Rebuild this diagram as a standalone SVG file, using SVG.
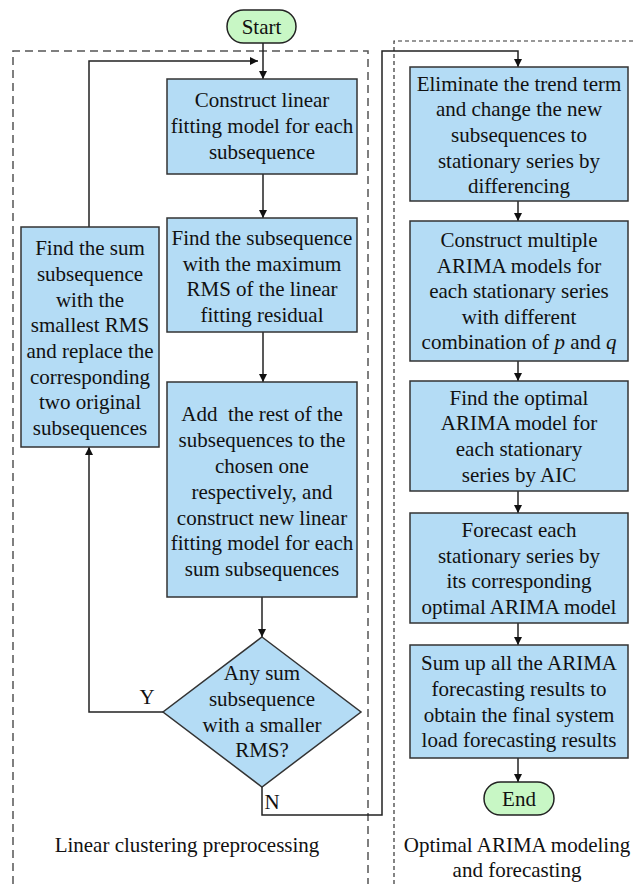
<svg xmlns="http://www.w3.org/2000/svg" width="635" height="884" viewBox="0 0 635 884">
<defs>
<marker id="ah" viewBox="0 0 10 10" refX="10" refY="5" markerWidth="8" markerHeight="8" markerUnits="userSpaceOnUse" orient="auto">
<path d="M0,0 L10,5 L0,10 z" fill="#111"/>
</marker>
<style>
text{font-family:"Liberation Serif","Times New Roman",serif;font-size:21px;fill:#111;text-anchor:middle;dominant-baseline:central}
.box{fill:#b4dcf5;stroke:#333;stroke-width:1.5}
.term{fill:#c8f7c5;stroke:#222;stroke-width:1.5}
.con{fill:none;stroke:#222;stroke-width:1.5}
.arr{fill:none;stroke:#222;stroke-width:1.5;marker-end:url(#ah)}
.dashL{fill:none;stroke:#555;stroke-width:1.5;stroke-dasharray:8 5}
.dashR{fill:none;stroke:#333;stroke-width:1.2;stroke-dasharray:4 3}
</style>
</defs>
<rect width="635" height="884" fill="#fff"/>
<g id="regions">
<path class="dashL" d="M13,884 V51 H368 V884"/>
<path class="dashR" d="M394,884 V41 H635"/>
<text x="187" y="845">Linear clustering preprocessing</text>
<text x="517" y="845">Optimal ARIMA modeling</text>
<text x="517" y="870">and forecasting</text>
</g>
<g id="connectors">
<path class="arr" d="M263,43 V79"/>
<path class="arr" d="M89,227 V61 H258"/>
<path class="arr" d="M263,174 V218"/>
<path class="arr" d="M263,332 V382"/>
<path class="arr" d="M262,597 V637"/>
<path class="arr" d="M163,712 H89 V447"/>
<path class="arr" d="M262,787 V815 H382 V51 H518 V67"/>
<path class="arr" d="M518,201 V221"/>
<path class="arr" d="M518,361 V381"/>
<path class="arr" d="M518,491 V513"/>
<path class="arr" d="M518,623 V645"/>
<path class="arr" d="M518,758 V782"/>
<text x="147" y="697">Y</text>
<text x="272" y="802">N</text>
</g>
<g id="start">
<rect class="term" x="227" y="10" width="69" height="33" rx="16.5"/>
<text x="261.5" y="27">Start</text>
</g>
<g id="box1">
<rect class="box" x="167" y="79" width="190" height="95"/>
<text x="262" y="100">Construct linear</text>
<text x="262" y="126">fitting model for each</text>
<text x="262" y="152">subsequence</text>
</g>
<g id="box2">
<rect class="box" x="167" y="218" width="190" height="114"/>
<text x="262" y="238">Find the subsequence</text>
<text x="262" y="263.5">with the maximum</text>
<text x="262" y="289">RMS of the linear</text>
<text x="262" y="314.5">fitting residual</text>
</g>
<g id="box3">
<rect class="box" x="167" y="382" width="190" height="215"/>
<text x="262" y="414" xml:space="preserve">Add  the rest of the</text>
<text x="262" y="440">subsequences to the</text>
<text x="262" y="466">chosen one</text>
<text x="262" y="492">respectively, and</text>
<text x="262" y="517.5">construct new linear</text>
<text x="262" y="543">fitting model for each</text>
<text x="262" y="569">sum subsequences</text>
</g>
<g id="decision">
<polygon class="box" points="262,637 361,712 262,787 163,712"/>
<text x="262" y="673">Any sum</text>
<text x="262" y="699">subsequence</text>
<text x="262" y="725">with a smaller</text>
<text x="262" y="750">RMS?</text>
</g>
<g id="merge">
<rect class="box" x="21" y="227" width="138" height="220"/>
<text x="90" y="248">Find the sum</text>
<text x="90" y="274">subsequence</text>
<text x="90" y="299.5">with the</text>
<text x="90" y="325">smallest RMS</text>
<text x="90" y="351">and replace the</text>
<text x="90" y="376.5">corresponding</text>
<text x="90" y="402">two original</text>
<text x="90" y="427.5">subsequences</text>
</g>
<g id="r1">
<rect class="box" x="410" y="67" width="218" height="134"/>
<text x="519" y="83.5">Eliminate the trend term</text>
<text x="519" y="109">and change the new</text>
<text x="519" y="135">subsequences to</text>
<text x="519" y="160.5">stationary series by</text>
<text x="519" y="186">differencing</text>
</g>
<g id="r2">
<rect class="box" x="410" y="221" width="218" height="140"/>
<text x="519" y="240">Construct multiple</text>
<text x="519" y="265.5">ARIMA models for</text>
<text x="519" y="291">each stationary series</text>
<text x="519" y="317">with different</text>
<text x="519" y="342">combination of <tspan font-style="italic">p</tspan> and <tspan font-style="italic">q</tspan></text>
</g>
<g id="r3">
<rect class="box" x="410" y="381" width="218" height="110"/>
<text x="519" y="397.5">Find the optimal</text>
<text x="519" y="423">ARIMA model for</text>
<text x="519" y="449">each stationary</text>
<text x="519" y="475">series by AIC</text>
</g>
<g id="r4">
<rect class="box" x="410" y="513" width="218" height="110"/>
<text x="519" y="530">Forecast each</text>
<text x="519" y="555.5">stationary series by</text>
<text x="519" y="581">its corresponding</text>
<text x="519" y="607">optimal ARIMA model</text>
</g>
<g id="r5">
<rect class="box" x="410" y="645" width="218" height="113"/>
<text x="519" y="663">Sum up all the ARIMA</text>
<text x="519" y="689">forecasting results to</text>
<text x="519" y="715">obtain the final system</text>
<text x="519" y="740">load forecasting results</text>
</g>
<g id="end">
<rect class="term" x="484" y="782" width="70" height="33" rx="16.5"/>
<text x="519" y="798.5">End</text>
</g>
</svg>
